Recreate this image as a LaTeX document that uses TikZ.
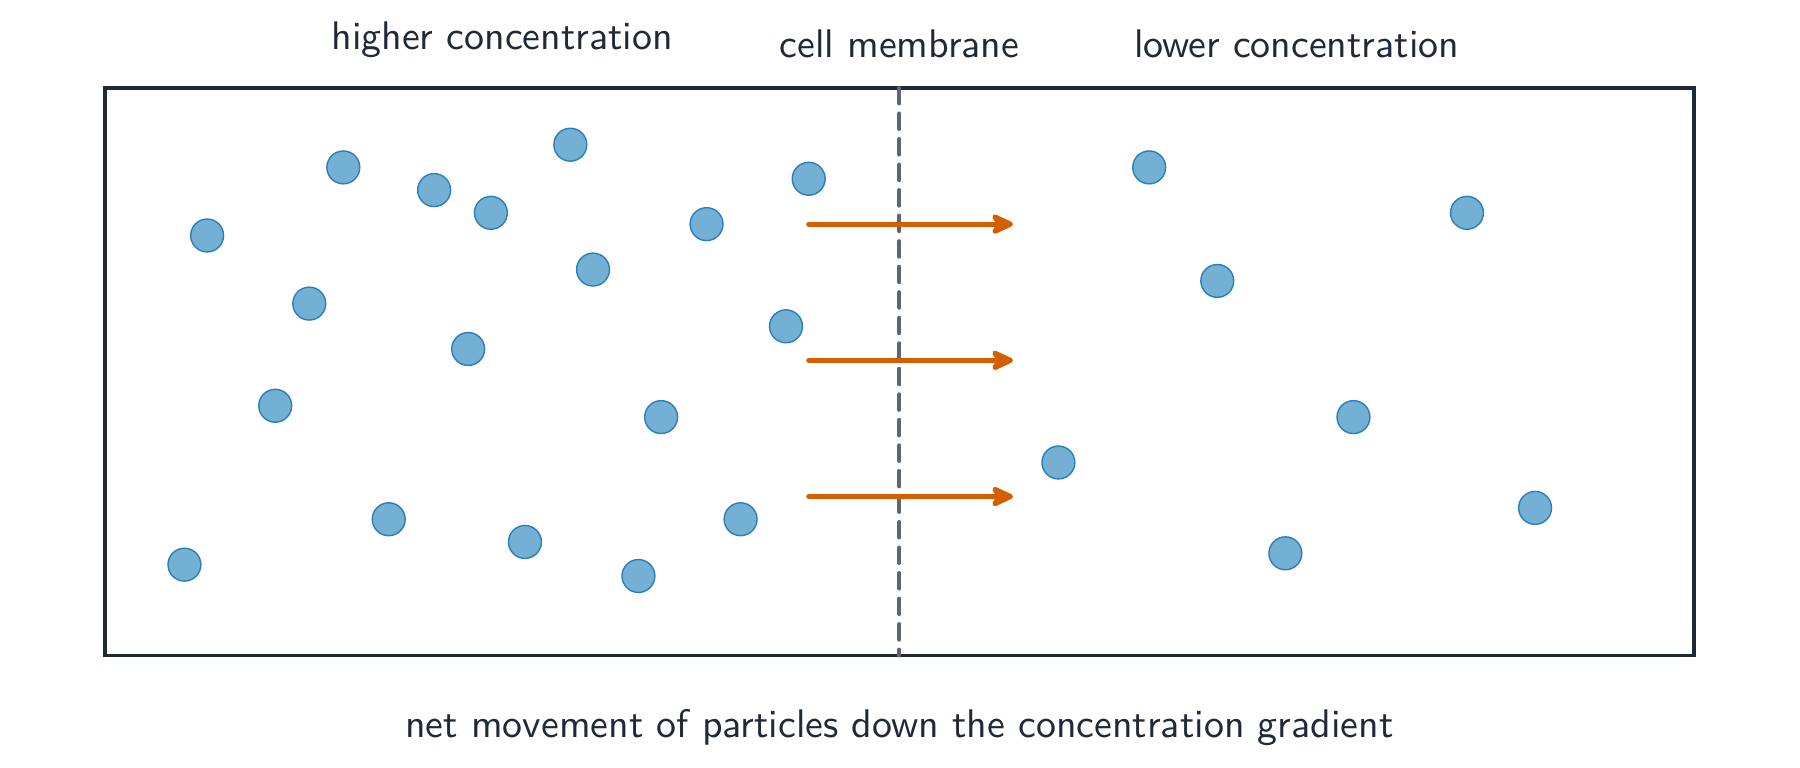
\documentclass[tikz,border=0pt]{standalone}
\usepackage{xcolor}
\usepackage{tikz}
\usetikzlibrary{arrows.meta, positioning}
\definecolor{inkdark}{HTML}{1F2937}
\definecolor{membranegray}{HTML}{5F6673}
\definecolor{particlefill}{HTML}{73B0D4}
\definecolor{particleedge}{HTML}{2A7FBA}
\definecolor{flowcol}{HTML}{D55E00}
\tikzset{
  box/.style={draw=inkdark, line width=0.8pt, inner sep=0pt, outer sep=0pt, minimum width=14cm, minimum height=5cm},
  membrane/.style={draw=membranegray, line width=1pt, line cap=round, dash pattern=on 3.9pt off 2.5pt},
  particle/.style={circle, draw=particleedge, fill=particlefill, line width=0.35pt, minimum size=0.29cm, inner sep=0pt},
  flow/.style={-{Stealth[length=7pt, width=6.4pt, inset=2pt, round]}, draw=flowcol, line width=1.25pt, line cap=round},
  caption/.style={text=inkdark, font=\sffamily\fontsize{10pt}{12pt}\selectfont, anchor=base, inner sep=0pt}
}

\begin{document}
\begin{tikzpicture}
        \useasboundingbox (-0.925,-0.991) rectangle (14.934,5.775);

        % Cell boundary and membrane
        \node[box] (cell) at (7,2.5) {};
        \draw[membrane] (cell.north) -- (cell.south);

        % Labels
        \node[caption] (high) at (3.5, 5.34) {higher concentration};
        \node[caption] (mem)  at (7.0, 5.27) {cell membrane};
        \node[caption] (low)  at (10.5,5.27) {lower concentration};
        \node[caption] (net)  at (7.0,-0.72) {net movement of particles down the concentration gradient};

        % Particles
        \foreach \x/\y [count=\i] in {0.9/3.7, 2.1/4.3, 2.9/4.1, 3.4/3.9, 4.1/4.5, 6.2/4.2,
                                      5.3/3.8, 4.3/3.4, 1.8/3.1, 3.2/2.7, 6.0/2.9, 1.5/2.2,
                                      4.9/2.1, 2.5/1.2, 5.6/1.2, 3.7/1.0, 0.7/0.8, 4.7/0.7,
                                      9.2/4.3, 12.0/3.9, 9.8/3.3, 11.0/2.1, 8.4/1.7, 12.6/1.3, 10.4/0.9}
            \node[particle] (p\i) at (\x,\y) {};

        % Net flow
        \coordinate (f1s) at (6.2,3.8);  \coordinate (f1e) at (8.0,3.8);
        \coordinate (f2s) at (6.2,2.6);  \coordinate (f2e) at (8.0,2.6);
        \coordinate (f3s) at (6.2,1.4);  \coordinate (f3e) at (8.0,1.4);
        \draw[flow] (f1s) -- (f1e);
        \draw[flow] (f2s) -- (f2e);
        \draw[flow] (f3s) -- (f3e);
    \end{tikzpicture}
\end{document}
